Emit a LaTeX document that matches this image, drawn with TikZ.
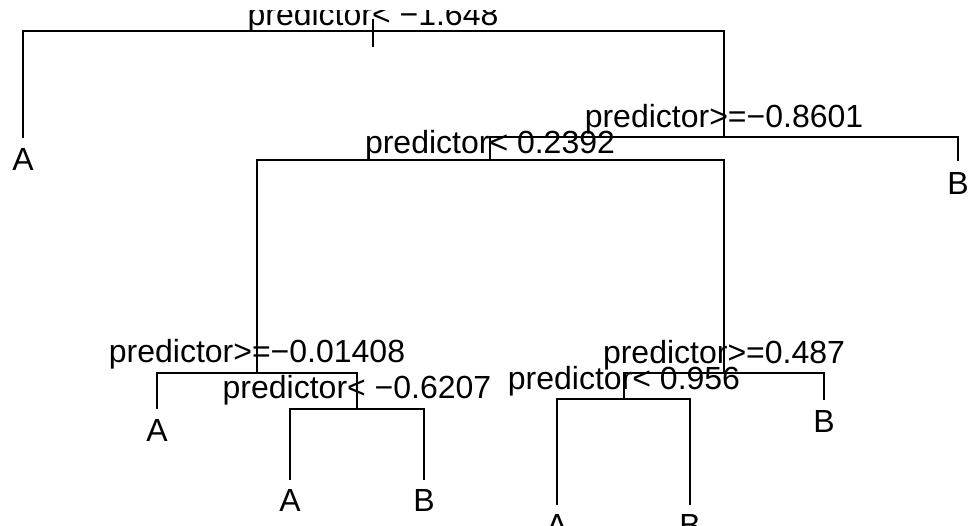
\documentclass[tikz,border=0pt]{standalone}
\usepackage{fontspec}
\setmainfont{Liberation Sans}
\begin{document}
\begin{tikzpicture}[x=1pt,y=-1pt,
  branch/.style={line width=1.9pt,line cap=rect},
  splitlabel/.style={anchor=base,inner sep=0pt,font=\fontsize{32}{38}\selectfont},
  leaflabel/.style={anchor=north,inner sep=0pt,font=\fontsize{32}{38}\selectfont}]
\useasboundingbox (0,0) rectangle (969,525);
\clip (0,10) rectangle (969,525);

% split points
\coordinate (root) at (373,31);
\coordinate (roottop) at (373,20);
\coordinate (rootbot) at (373,46);
\coordinate (n3) at (724,137);
\coordinate (n6) at (490,160);
\coordinate (n12) at (257,373);
\coordinate (n25) at (357,409);
\coordinate (n13) at (724,373);
\coordinate (n26) at (624,399);

% leaf ends
\coordinate (n2) at (23,137);
\coordinate (n7) at (958,160);
\coordinate (n24) at (157,408);
\coordinate (n50) at (290,479);
\coordinate (n51) at (424,479);
\coordinate (n27) at (824,399);
\coordinate (n52) at (557,504);
\coordinate (n53) at (690,504);

% branches
\draw[branch] (roottop) -- (rootbot);
\draw[branch] (n2) |- (root) -| (n3);
\draw[branch] (n6) |- (n3) -| (n7);
\draw[branch] (n12) |- (n6) -| (n13);
\draw[branch] (n24) |- (n12) -| (n25);
\draw[branch] (n50) |- (n25) -| (n51);
\draw[branch] (n26) |- (n13) -| (n27);
\draw[branch] (n52) |- (n26) -| (n53);

% split labels
\node[splitlabel] (l1) at (373,25) {predictor< −1.648};
\node[splitlabel] (l3) at (724,127) {predictor>=−0.8601};
\node[splitlabel] (l6) at (490,153) {predictor< 0.2392};
\node[splitlabel] (l12) at (257,362) {predictor>=−0.01408};
\node[splitlabel] (l25) at (357,398) {predictor< −0.6207};
\node[splitlabel] (l13) at (724,363) {predictor>=0.487};
\node[splitlabel] (l26) at (624,389) {predictor< 0.956};

% leaf labels
\node[leaflabel] (a2) at ([yshift=-11pt]n2) {A};
\node[leaflabel] (b7) at ([yshift=-12pt]n7) {B};
\node[leaflabel] (a24) at ([yshift=-11pt]n24) {A};
\node[leaflabel] (a50) at ([yshift=-10pt]n50) {A};
\node[leaflabel] (b51) at ([yshift=-10pt]n51) {B};
\node[leaflabel] (b27) at ([yshift=-11pt]n27) {B};
\node[leaflabel] (a52) at ([yshift=-10pt]n52) {A};
\node[leaflabel] (b53) at ([yshift=-10pt]n53) {B};
\end{tikzpicture}
\end{document}
